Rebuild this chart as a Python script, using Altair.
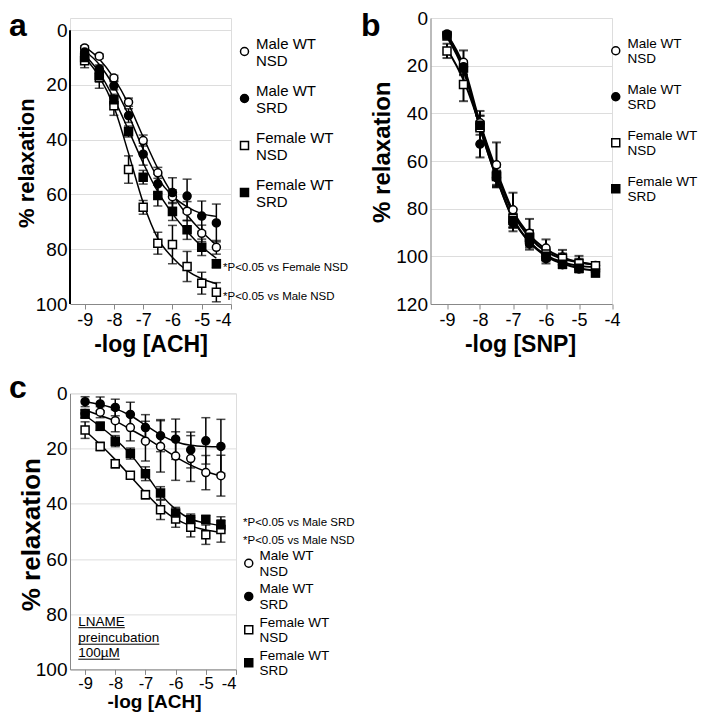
import altair as alt
import pandas as pd

FONT = "Liberation Sans"

# ---------------- data ----------------
X = [-9, -8.5, -8, -7.5, -7, -6.5, -6, -5.5, -5, -4.5]
GROUPS = ["Male WT NSD", "Male WT SRD", "Female WT NSD", "Female WT SRD"]
SHAPES = ["circle", "circle", "square", "square"]
FILLS = ["white", "black", "white", "black"]
STROKES = ["black", "black", "black", "black"]
X_TICKS = [-9, -8, -7, -6, -5, -4]

# panel a : -log [ACH]
a_male_nsd = [6.5, 9.5, 17.5, 26.3, 40.3, 52.1, 60.8, 66.1, 74.2, 79.3]
a_male_nsd_err = [0.8, 0.8, 1.0, 1.5, 2.0, 2.0, 2.5, 3.5, 3.0, 2.5]
a_male_srd = [8.0, 14.2, 20.3, 31.2, 45.3, 56.1, 59.3, 60.6, 67.9, 70.4]
a_male_srd_err = [1.0, 1.5, 1.5, 2.5, 4.0, 3.5, 5.4, 6.2, 5.5, 6.9]
a_female_nsd = [11.2, 17.2, 27.6, 50.9, 64.7, 77.8, 78.3, 86.3, 92.4, 95.7]
a_female_nsd_err = [2.5, 4.0, 3.5, 5.0, 2.5, 4.0, 7.0, 5.5, 4.0, 3.5]
a_female_srd = [10.0, 16.5, 25.4, 37.0, 53.7, 60.4, 66.2, 72.9, 79.3, 85.3]
a_female_srd_err = [1.5, 2.5, 2.0, 2.0, 2.5, 3.8, 3.3, 3.5, 3.0, 1.5]
a_fit_male_nsd = [6.0, 10.5, 17.5, 27.0, 39.0, 50.5, 60.0, 67.5, 73.5, 78.5]
a_fit_male_srd = [7.5, 12.5, 20.5, 31.0, 43.5, 54.0, 60.5, 64.5, 67.0, 68.0]
a_fit_female_nsd = [10.0, 17.0, 28.0, 45.0, 63.0, 76.0, 83.0, 87.8, 90.8, 92.6]
a_fit_female_srd = [9.0, 15.5, 25.0, 36.5, 48.5, 59.0, 67.0, 73.5, 79.0, 83.3]

# panel b : -log [SNP]
b_male_nsd = [7.0, 18.6, 44.0, 61.6, 80.5, 90.3, 96.5, 100.3, 102.8, 103.8]
b_male_nsd_err = [1.0, 5.0, 3.0, 9.4, 7.2, 6.0, 3.6, 3.0, 3.0, 1.0]
b_male_srd = [6.7, 20.5, 52.9, 67.0, 86.0, 94.7, 101.0, 103.5, 105.3, 106.5]
b_male_srd_err = [1.0, 2.0, 5.6, 3.0, 3.5, 2.5, 2.0, 1.5, 1.5, 1.0]
b_female_nsd = [13.8, 27.9, 46.0, 66.0, 84.0, 92.5, 99.0, 100.8, 103.0, 104.0]
b_female_nsd_err = [3.0, 7.0, 7.0, 5.0, 4.0, 3.0, 2.0, 2.0, 2.0, 1.5]
b_female_srd = [7.5, 21.0, 45.0, 66.5, 85.0, 92.0, 100.0, 103.3, 105.0, 107.0]
b_female_srd_err = [1.0, 3.0, 4.0, 4.0, 3.0, 3.0, 2.0, 1.5, 1.5, 1.5]
b_fit_male_nsd = [7.0, 20.0, 44.0, 64.0, 81.0, 91.0, 97.0, 100.5, 102.5, 103.5]
b_fit_male_srd = [7.0, 21.0, 46.0, 67.0, 84.0, 94.0, 99.5, 102.5, 104.0, 104.5]
b_fit_female_nsd = [13.0, 26.0, 45.0, 65.0, 82.0, 92.0, 98.0, 101.0, 102.5, 103.5]
b_fit_female_srd = [8.0, 22.0, 46.0, 67.0, 84.5, 94.0, 100.0, 103.0, 105.0, 106.0]

# panel c : -log [ACH], LNAME preincubation
c_male_nsd = [7.3, 6.8, 9.9, 12.4, 17.3, 19.2, 22.7, 23.6, 28.7, 29.8]
c_male_nsd_err = [1.5, 2.0, 4.0, 4.8, 7.2, 9.3, 8.8, 8.3, 6.2, 7.4]
c_male_srd = [3.0, 3.8, 5.1, 7.6, 12.4, 15.3, 16.6, 20.5, 17.2, 19.2]
c_male_srd_err = [1.8, 2.5, 3.0, 4.4, 4.7, 5.8, 7.3, 6.5, 8.4, 9.8]
c_female_nsd = [13.3, 19.2, 25.5, 29.7, 36.7, 42.2, 45.5, 48.5, 51.2, 49.3]
c_female_nsd_err = [3.0, 1.5, 1.5, 1.0, 1.5, 3.5, 3.0, 3.5, 3.5, 4.6]
c_female_srd = [7.5, 11.9, 17.3, 21.8, 29.1, 36.1, 43.3, 45.7, 45.7, 47.6]
c_female_srd_err = [1.5, 1.5, 2.0, 2.0, 2.5, 2.3, 2.0, 2.0, 1.5, 1.8]
c_fit_male_nsd = [6.0, 8.0, 10.0, 13.0, 16.0, 19.5, 23.0, 26.0, 28.3, 30.0]
c_fit_male_srd = [3.0, 4.0, 5.5, 8.0, 11.5, 15.0, 17.5, 18.8, 19.2, 19.3]
c_fit_female_nsd = [13.5, 18.5, 24.0, 30.0, 36.0, 41.5, 45.5, 48.0, 49.5, 50.3]
c_fit_female_srd = [8.0, 12.0, 16.5, 22.0, 29.0, 36.5, 42.0, 45.5, 47.0, 47.8]

# texts
PANEL_LABELS = ["a", "b", "c"]
A_NOTES = ["*P<0.05 vs Female NSD", "*P<0.05 vs Male NSD"]
C_NOTES = ["*P<0.05 vs Male SRD", "*P<0.05 vs Male NSD"]
C_BOX = ["LNAME", "preincubation", "100\u00b5M"]


def long_table(series, errs=None):
    rows = []
    for i, g in enumerate(GROUPS):
        for j, x in enumerate(X):
            r = {"x": x, "y": series[i][j], "group": g}
            if errs is not None:
                r["lo"] = series[i][j] - errs[i][j]
                r["hi"] = series[i][j] + errs[i][j]
            rows.append(r)
    return pd.DataFrame(rows)


LABEL_EXPR = ("[slice(datum.label, 0, lastindexof(datum.label, ' ')), "
              "slice(datum.label, lastindexof(datum.label, ' ') + 1)]")


def panel(pts, fit, w, h, ydom, yticks, ytitle, ytitle_fs, ytitle_x, ytitle_y,
          xtitle, xtitle_fs, xtitle_x, xtitle_y, flush, xlab_fs, xlab_pad,
          leg_x, leg_y, leg_fs, leg_rp, leg_off, line_w, ydomain_line=True):
    xs = alt.Scale(domain=[-9.5, -4], nice=False, zero=False)
    ys = alt.Scale(domain=ydom, reverse=True, nice=False, zero=False)
    xax = alt.Axis(values=X_TICKS, labelExpr="'-' + abs(datum.value)",
                   title=xtitle, titleFontSize=xtitle_fs, titleX=xtitle_x,
                   titleY=xtitle_y, titleBaseline="alphabetic", grid=False,
                   ticks=True, tickSize=5, labelFlush=flush,
                   labelPadding=xlab_pad, labelFontSize=xlab_fs)
    yax = alt.Axis(values=yticks, title=ytitle, titleFontSize=ytitle_fs,
                   titleX=ytitle_x, titleY=ytitle_y, titleAngle=270,
                   titleBaseline="alphabetic", titleAlign="center", grid=True,
                   ticks=False, labelPadding=3, labelFlush=False,
                   labelFontSize=19, domain=ydomain_line)
    X_ = alt.X("x:Q", scale=xs, axis=xax)
    leg = alt.Legend(orient="none", legendX=leg_x, legendY=leg_y, title=None,
                     labelExpr=LABEL_EXPR, labelFontSize=leg_fs,
                     labelBaseline="bottom", rowPadding=leg_rp,
                     labelOffset=leg_off, labelLimit=300, padding=0,
                     symbolSize=64, symbolStrokeWidth=1.5,
                     labelFont=FONT, labelColor="black")
    base = alt.Chart(pts)
    bars = base.mark_rule(color="black", strokeWidth=line_w).encode(
        x=X_, y=alt.Y("lo:Q", scale=ys, axis=yax), y2="hi:Q")
    cap_lo = base.mark_tick(orient="horizontal", size=9, thickness=line_w,
                            color="black").encode(
        x=X_, y=alt.Y("lo:Q", scale=ys, axis=yax))
    cap_hi = base.mark_tick(orient="horizontal", size=9, thickness=line_w,
                            color="black").encode(
        x=X_, y=alt.Y("hi:Q", scale=ys, axis=yax))
    curves = alt.Chart(fit).mark_line(color="black", strokeWidth=line_w,
                                      interpolate="monotone").encode(
        x=X_, y=alt.Y("y:Q", scale=ys, axis=yax), detail="group:N")
    points = base.mark_point(filled=True, size=64, strokeWidth=1.5,
                             opacity=1).encode(
        x=X_, y=alt.Y("y:Q", scale=ys, axis=yax),
        shape=alt.Shape("group:N", scale=alt.Scale(domain=GROUPS, range=SHAPES),
                        legend=leg),
        fill=alt.Fill("group:N", scale=alt.Scale(domain=GROUPS, range=FILLS),
                      legend=leg),
        stroke=alt.Stroke("group:N", scale=alt.Scale(domain=GROUPS, range=STROKES),
                          legend=leg))
    layers = [bars, cap_lo, cap_hi, curves, points]
    if not ydomain_line:
        spine = alt.Chart(pd.DataFrame({"v": [0]})).mark_rule(
            color="black", strokeWidth=2).encode(
            x=alt.value(0), y=alt.datum(0), y2=alt.datum(100))
        layers.insert(0, spine)
    return layers, w, h


def text_layer(texts, xs_, ys_, size, weight="normal", align="left"):
    out = []
    for t, xx, yy in zip(texts, xs_, ys_):
        out.append(alt.Chart(pd.DataFrame({"t": [t]})).mark_text(
            align=align, baseline="alphabetic", fontSize=size,
            fontWeight=weight, font=FONT, color="black").encode(
            text="t:N", x=alt.value(xx), y=alt.value(yy)))
    return out


# ---------- panel a ----------
pa_pts = long_table([a_male_nsd, a_male_srd, a_female_nsd, a_female_srd],
                    [a_male_nsd_err, a_male_srd_err, a_female_nsd_err, a_female_srd_err])
pa_fit = long_table([a_fit_male_nsd, a_fit_male_srd, a_fit_female_nsd, a_fit_female_srd])
la, wa, ha = panel(pa_pts, pa_fit, 161, 286, [-4.45, 100], [0, 20, 40, 60, 80, 100],
                   "% relaxation", 22, -37, 144.7,
                   "-log [ACH]", 23, 80.5, 47.6, True, 18, 2,
                   167, 26, 15, 14, 4, 1.5, ydomain_line=False)
la += text_layer(A_NOTES, [153, 153], [253.4, 281.7], 11.5)
la += text_layer([PANEL_LABELS[0]], [-61], [17.5], 32, "bold")
pa = alt.layer(*la).properties(width=wa, height=ha)

# ---------- panel b ----------
pb_pts = long_table([b_male_nsd, b_male_srd, b_female_nsd, b_female_srd],
                    [b_male_nsd_err, b_male_srd_err, b_female_nsd_err, b_female_srd_err])
pb_fit = long_table([b_fit_male_nsd, b_fit_male_srd, b_fit_female_nsd, b_fit_female_srd])
lb, wb, hb = panel(pb_pts, pb_fit, 181.5, 286, [0, 120], [0, 20, 40, 60, 80, 100, 120],
                   "% relaxation", 24, -41.5, 133.7,
                   "-log [SNP]", 23, 89.5, 47.6, False, 18, 2,
                   178.5, 26, 13.5, 16, 5, 2)
lb += text_layer([PANEL_LABELS[1]], [-69.5], [17.5], 32, "bold")
pb = alt.layer(*lb).properties(width=wb, height=hb)

# ---------- panel c ----------
pc_pts = long_table([c_male_nsd, c_male_srd, c_female_nsd, c_female_srd],
                    [c_male_nsd_err, c_male_srd_err, c_female_nsd_err, c_female_srd_err])
pc_fit = long_table([c_fit_male_nsd, c_fit_male_srd, c_fit_female_nsd, c_fit_female_srd])
lc, wc, hc = panel(pc_pts, pc_fit, 166, 276, [0, 100], [0, 20, 40, 60, 80, 100],
                   "% relaxation", 26, -31, 140.8,
                   "-log [ACH]", 19, 84, 38.5, True, 16.5, 1,
                   172, 163.1, 13.5, 3.2, 4, 1.5)
lc += text_layer(C_NOTES, [173, 173], [132.3, 150.3], 11.5)
lc += text_layer(C_BOX, [8.3, 8.3, 8.3], [232.3, 248.8, 263.8], 13.5)
for ww, yy in zip([46.5, 81, 41.5], [234.3, 250.8, 265.8]):
    lc.append(alt.Chart(pd.DataFrame({"v": [0]})).mark_rule(
        color="black", strokeWidth=1).encode(
        x=alt.value(8.3), x2=alt.value(8.3 + ww), y=alt.value(yy)))
lc += text_layer([PANEL_LABELS[2]], [-61], [5], 32, "bold")
pc = alt.layer(*lc).properties(width=wc, height=hc)

chart = alt.concat(
    pa, pb, pc, columns=2, bounds="flush", align="each",
    spacing={"row": 89.4, "column": 194.5},
).resolve_scale(
    x="independent", y="independent", shape="independent", fill="independent",
    stroke="independent"
).resolve_axis(
    x="independent", y="independent"
).resolve_legend(
    shape="independent", fill="independent", stroke="independent"
).properties(
    padding=0
).configure_view(
    strokeWidth=0
).configure_axis(
    domainColor="black", domainWidth=2, tickColor="black", tickWidth=2,
    gridColor="#b0b0b0", gridWidth=1.5, labelFont=FONT, labelFontWeight="bold",
    labelColor="black", titleFont=FONT, titleFontWeight="bold",
    titleColor="black"
).configure(font=FONT)

chart.save("out.html", embed_options={"renderer": "svg", "actions": False})
